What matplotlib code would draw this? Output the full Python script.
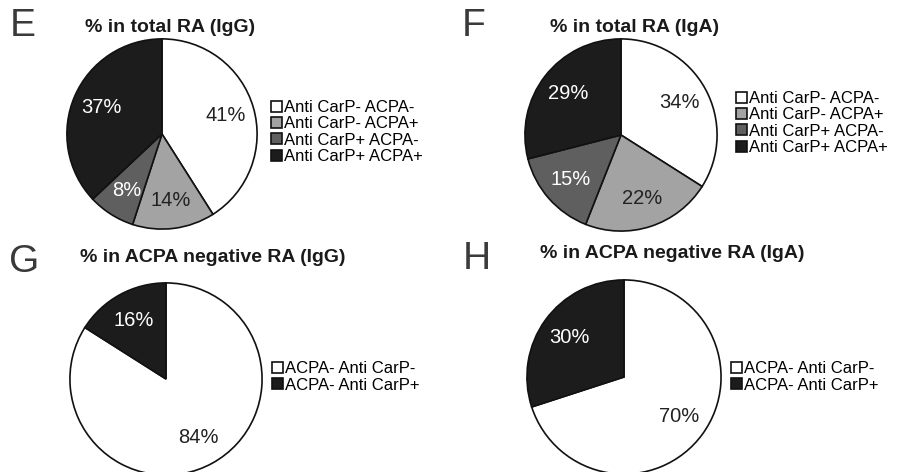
import matplotlib.pyplot as plt

plt.rcParams['font.family'] = ['Liberation Sans', 'DejaVu Sans']

# data for the four panels
labels_total = ['Anti CarP- ACPA-', 'Anti CarP- ACPA+', 'Anti CarP+ ACPA-', 'Anti CarP+ ACPA+']
labels_neg = ['ACPA- Anti CarP-', 'ACPA- Anti CarP+']

vals_e = [41, 14, 8, 37]
vals_f = [34, 22, 15, 29]
vals_g = [84, 16]
vals_h = [70, 30]

titles = ['% in total RA (IgG)', '% in total RA (IgA)',
          '% in ACPA negative RA (IgG)', '% in ACPA negative RA (IgA)']
letters = ['E', 'F', 'G', 'H']

cores_total = ['#ffffff', '#a3a3a3', '#5f5f5f', '#1c1c1c']
cores_neg = ['#ffffff', '#1c1c1c']
cor_texto_total = ['#222222', '#222222', '#ffffff', '#ffffff']
cor_texto_neg = ['#222222', '#ffffff']

W, H = 897, 472
fig = plt.figure(figsize=(W / 100, H / 100), dpi=100)


def painel(cx, cy, r, vals, labels, cores, cor_txt, leg_xy, letra, letra_xy, titulo, titulo_xy):
    # axes covering the pie box in pixels
    ax = fig.add_axes([(cx - r) / W, 1 - (cy + r) / H, 2 * r / W, 2 * r / H])
    wedges, texts, autotexts = ax.pie(
        vals, colors=cores, startangle=90, counterclock=False, radius=1,
        autopct='%d%%', pctdistance=0.7,
        wedgeprops=dict(edgecolor='#111111', linewidth=1.2),
        textprops=dict(fontsize=14.5))
    for t, c in zip(autotexts, cor_txt):
        t.set_color(c)
    ax.set_xlim(-1.02, 1.02)
    ax.set_ylim(-1.02, 1.02)
    ax.axis('off')
    for w in wedges:
        w.set_clip_on(False)
    ax.legend(wedges, labels, loc='center left',
              bbox_to_anchor=(leg_xy[0] / W, 1 - leg_xy[1] / H), bbox_transform=fig.transFigure,
              frameon=False, fontsize=12, handlelength=0.65, handleheight=0.65,
              handletextpad=0.12, labelspacing=0.08, borderaxespad=0, borderpad=0)
    fig.text(letra_xy[0] / W, 1 - letra_xy[1] / H, letra, fontsize=28, color='#3a3a3a',
             ha='left', va='center')
    fig.text(titulo_xy[0] / W, 1 - titulo_xy[1] / H, titulo, fontsize=14, fontweight='bold',
             color='#1a1a1a', ha='left', va='center')


painel(162, 134, 97, vals_e, labels_total, cores_total, cor_texto_total,
       (271, 132), 'E', (10, 26), titles[0], (85, 27))
painel(621, 135, 98, vals_f, labels_total, cores_total, cor_texto_total,
       (736, 123), 'F', (462, 26), titles[1], (550, 27))
painel(166, 379, 98, vals_g, labels_neg, cores_neg, cor_texto_neg,
       (272, 377), 'G', (9, 262), titles[2], (80, 258))
painel(624, 377, 99, vals_h, labels_neg, cores_neg, cor_texto_neg,
       (731, 377), 'H', (463, 259), titles[3], (540, 254))

fig.savefig('out.png', dpi=100, facecolor='white')
